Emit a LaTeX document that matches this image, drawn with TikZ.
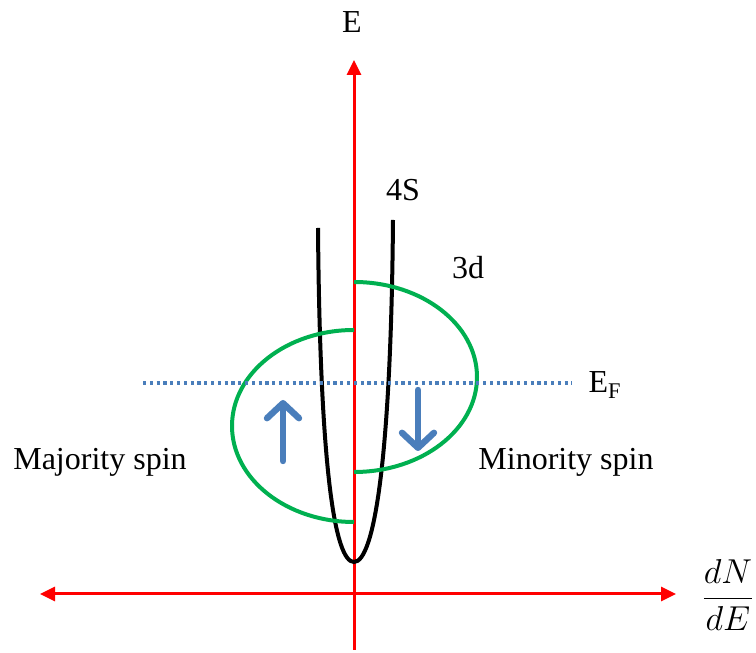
\documentclass[tikz,border=0pt]{standalone}
\usepackage{fontspec}
\setmainfont{Liberation Serif}
\usepackage{amsmath}
\usepackage{xcolor}
\definecolor{axisred}{RGB}{255, 0, 0}
\definecolor{bandgreen}{RGB}{0, 176, 80}
\definecolor{spinblue}{RGB}{74, 126, 187}
\usetikzlibrary{arrows.meta, positioning}

\begin{document}
\begin{tikzpicture}[
    x=0.5pt, y=0.5pt,
    every node/.style={font=\fontsize{16}{19}\selectfont, inner sep=0pt},
    axis/.style={draw=axisred, line width=1.5pt},
    redtip/.tip={Triangle[length=7.5pt, width=7pt]},
    band/.style={draw=bandgreen, line width=2pt},
    sband/.style={draw=black, line width=2pt},
    fermi/.style={draw=spinblue, line width=1.7pt, dash pattern=on 1.6pt off 1.8pt},
    spin/.style={draw=spinblue, line width=3.2pt, line cap=round,
        -{Straight Barb[length=7.5pt, width=16pt, round]}}
]
\useasboundingbox (0,0) rectangle (756,653);

% ==================== AXES ====================
\coordinate (e_bot) at (354,3);
\coordinate (e_top) at (354,593);
\coordinate (dos_left) at (40,59);
\coordinate (dos_right) at (676,59);
\draw[axis, -redtip] (e_bot) -- (e_top);
\draw[axis, redtip-redtip] (dos_left) -- (dos_right);

\node (lbl_e) at (352,631) {E};
\node (lbl_dos) at (728,58) {$\dfrac{dN}{dE}$};

% ==================== 4S BAND ====================
\coordinate (s_left) at (318,425);
\coordinate (s_bot) at (354,91);
\coordinate (s_right) at (393,433);
\draw[sband] (s_left) .. controls (320,183) and (335,91) .. (s_bot)
    .. controls (374,91) and (391,193) .. (s_right);
\node (lbl_4s) at (403,463) {4S};

% ==================== 3d BANDS ====================
\coordinate (d_up) at (354,323);
\coordinate (d_down) at (354,371);
\draw[band] (d_up) arc[start angle=90, end angle=270, x radius=122, y radius=96];
\draw[band] (d_down) arc[start angle=90, end angle=-90, x radius=123, y radius=95];
\node (lbl_3d) at (468,385) {3d};

% ==================== FERMI LEVEL ====================
\coordinate (ef_left) at (143,270);
\coordinate (ef_right) at (572,270);
\draw[fermi] (ef_left) -- (ef_right);
\node (lbl_ef) at (605,268) {E\textsubscript{F}};

% ==================== SPINS ====================
\coordinate (maj_bot) at (283,192);
\coordinate (maj_top) at (283,253);
\coordinate (min_top) at (418,263);
\coordinate (min_bot) at (418,202);
\draw[spin] (maj_bot) -- (maj_top);
\draw[spin] (min_top) -- (min_bot);

\node (lbl_maj) at (100,191) {Majority spin};
\node (lbl_min) at (566,191) {Minority spin};

\end{tikzpicture}
\end{document}
